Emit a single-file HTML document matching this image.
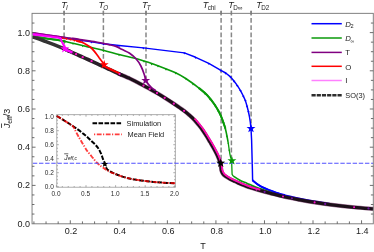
<!DOCTYPE html>
<html><head><meta charset="utf-8"><title>Jeff vs T</title>
<style>
html,body{margin:0;padding:0;background:#ffffff;}
body{width:374px;height:252px;overflow:hidden;position:relative;font-family:"Liberation Sans",sans-serif;}
</style></head><body>
<svg width="374" height="252" viewBox="0 0 374 252" style="position:absolute;left:0;top:0;display:block;will-change:transform" font-family="'Liberation Sans', sans-serif">
<rect x="0" y="0" width="374" height="252" fill="#ffffff"/>
<defs><clipPath id="ovl"><rect x="50" y="110" width="23" height="17"/><rect x="108" y="165" width="70" height="22"/></clipPath></defs>
<g fill="none" stroke-linecap="butt" stroke-linejoin="round">
<line x1="64.10" y1="10.9" x2="64.10" y2="14.6" stroke="#3a3a3a" stroke-width="1.0"/>
<line x1="64.10" y1="10.8" x2="64.10" y2="46.00" stroke="#878787" stroke-width="1.5" stroke-dasharray="4.8 2.4"/>
<line x1="103.40" y1="10.9" x2="103.40" y2="14.6" stroke="#3a3a3a" stroke-width="1.0"/>
<line x1="103.40" y1="10.8" x2="103.40" y2="61.00" stroke="#878787" stroke-width="1.5" stroke-dasharray="4.8 2.4"/>
<line x1="146.00" y1="10.9" x2="146.00" y2="14.6" stroke="#3a3a3a" stroke-width="1.0"/>
<line x1="146.00" y1="10.8" x2="146.00" y2="78.00" stroke="#878787" stroke-width="1.5" stroke-dasharray="4.8 2.4"/>
<line x1="221.10" y1="10.9" x2="221.10" y2="14.6" stroke="#3a3a3a" stroke-width="1.0"/>
<line x1="221.10" y1="10.8" x2="221.10" y2="161.00" stroke="#878787" stroke-width="1.5" stroke-dasharray="4.8 2.4"/>
<line x1="231.40" y1="10.9" x2="231.40" y2="14.6" stroke="#3a3a3a" stroke-width="1.0"/>
<line x1="231.40" y1="10.8" x2="231.40" y2="158.00" stroke="#878787" stroke-width="1.5" stroke-dasharray="4.8 2.4"/>
<line x1="251.10" y1="10.9" x2="251.10" y2="14.6" stroke="#3a3a3a" stroke-width="1.0"/>
<line x1="251.10" y1="10.8" x2="251.10" y2="126.00" stroke="#878787" stroke-width="1.5" stroke-dasharray="4.8 2.4"/>
<path d="M32.60 34.00 L56.00 37.00 L82.70 40.60 L91.40 41.80 L103.50 43.70 L119.00 45.50 L143.30 47.90 L184.30 52.90 L195.70 57.30 L208.80 63.30 L220.90 70.30 L225.70 73.00 L230.50 76.90 L234.00 81.00 L237.20 85.40 L240.40 90.40 L243.30 96.00 L245.40 100.60 L247.00 106.00 L248.40 111.50 L249.40 116.50 L250.30 122.10 L251.00 128.50 L251.00 128.50 L251.60 140.00 L252.40 170.00 L252.60 180.40 L252.60 180.40 C253.50 181.10 256.08 183.33 258.00 184.60 C259.92 185.87 262.08 187.02 264.10 188.00 C266.12 188.98 268.10 189.73 270.10 190.50 C272.10 191.27 273.62 191.80 276.10 192.60 C278.58 193.40 281.02 194.32 285.00 195.30 C288.98 196.28 295.08 197.52 300.00 198.50 C304.92 199.48 309.50 200.35 314.50 201.20 C319.50 202.05 327.42 203.20 330.00 203.60" stroke="#0000ff" stroke-width="1.45"/>
<path d="M252.60 180.40 C253.50 181.10 256.08 183.33 258.00 184.60 C259.92 185.87 262.08 187.02 264.10 188.00 C266.12 188.98 268.10 189.73 270.10 190.50 C272.10 191.27 273.62 191.80 276.10 192.60 C278.58 193.40 283.52 194.85 285.00 195.30" stroke="#0000ff" stroke-width="2.0"/>
<path d="M32.60 36.20 C35.17 36.62 43.83 38.07 48.00 38.70 C52.17 39.33 54.67 39.53 57.60 40.00 C60.53 40.47 63.03 40.95 65.60 41.50 C68.17 42.05 69.27 42.40 73.00 43.30 C76.73 44.20 82.83 45.70 88.00 46.90 C93.17 48.10 98.67 49.18 104.00 50.50 C109.33 51.82 114.00 53.25 120.00 54.80 C126.00 56.35 133.58 57.93 140.00 59.80 C146.42 61.67 152.67 63.88 158.50 66.00 C164.33 68.12 170.45 70.42 175.00 72.50 C179.55 74.58 181.80 75.90 185.80 78.50 C189.80 81.10 195.47 85.35 199.00 88.10 C202.53 90.85 204.35 92.18 207.00 95.00 C209.65 97.82 212.58 101.53 214.90 105.00 C217.22 108.47 219.18 111.97 220.90 115.80 C222.62 119.63 224.00 123.63 225.20 128.00 C226.40 132.37 227.62 139.67 228.10 142.00" stroke="#0a9a0a" stroke-width="1.6"/>
<path d="M228.10 142.00 C228.40 144.02 229.32 151.02 229.90 154.10 C230.48 157.18 231.32 159.43 231.60 160.50 L231.60 160.50 L232.10 174.30 L233.30 176.10" stroke="#0a9a0a" stroke-width="1.3"/>
<path d="M233.30 176.10 C234.40 176.80 237.58 179.08 239.90 180.30 C242.22 181.52 244.58 182.28 247.20 183.40 C249.82 184.52 252.80 185.90 255.60 187.00 C258.40 188.10 261.27 189.07 264.00 190.00 C266.73 190.93 270.67 192.17 272.00 192.60" stroke="#0a9a0a" stroke-width="1.6"/>
<path d="M32.60 36.20 C35.17 36.62 43.83 38.07 48.00 38.70 C52.17 39.33 54.67 39.53 57.60 40.00 C60.53 40.47 64.27 41.25 65.60 41.50" stroke="#0a9a0a" stroke-width="2.1"/>
<path d="M199.00 88.10 C200.33 89.25 204.35 92.18 207.00 95.00 C209.65 97.82 212.58 101.53 214.90 105.00 C217.22 108.47 219.18 111.97 220.90 115.80 C222.62 119.63 224.48 125.97 225.20 128.00" stroke="#0a9a0a" stroke-width="2.0"/>
<path d="M81.45 40.30 L83.95 40.30 L82.70 42.30Z" fill="#0000ff" stroke="none"/>
<path d="M90.15 41.50 L92.65 41.50 L91.40 43.50Z" fill="#0000ff" stroke="none"/>
<path d="M102.25 43.40 L104.75 43.40 L103.50 45.40Z" fill="#0000ff" stroke="none"/>
<path d="M117.75 45.20 L120.25 45.20 L119.00 47.20Z" fill="#0000ff" stroke="none"/>
<path d="M142.05 47.60 L144.55 47.60 L143.30 49.60Z" fill="#0000ff" stroke="none"/>
<path d="M183.05 52.60 L185.55 52.60 L184.30 54.60Z" fill="#0000ff" stroke="none"/>
<path d="M194.45 57.00 L196.95 57.00 L195.70 59.00Z" fill="#0000ff" stroke="none"/>
<path d="M207.55 63.00 L210.05 63.00 L208.80 65.00Z" fill="#0000ff" stroke="none"/>
<path d="M219.65 70.00 L222.15 70.00 L220.90 72.00Z" fill="#0000ff" stroke="none"/>
<path d="M224.45 72.70 L226.95 72.70 L225.70 74.70Z" fill="#0000ff" stroke="none"/>
<path d="M229.25 76.60 L231.75 76.60 L230.50 78.60Z" fill="#0000ff" stroke="none"/>
<path d="M232.75 80.70 L235.25 80.70 L234.00 82.70Z" fill="#0000ff" stroke="none"/>
<path d="M235.95 85.10 L238.45 85.10 L237.20 87.10Z" fill="#0000ff" stroke="none"/>
<path d="M239.15 90.10 L241.65 90.10 L240.40 92.10Z" fill="#0000ff" stroke="none"/>
<path d="M242.05 95.70 L244.55 95.70 L243.30 97.70Z" fill="#0000ff" stroke="none"/>
<path d="M244.15 100.30 L246.65 100.30 L245.40 102.30Z" fill="#0000ff" stroke="none"/>
<path d="M245.75 105.70 L248.25 105.70 L247.00 107.70Z" fill="#0000ff" stroke="none"/>
<path d="M247.15 111.20 L249.65 111.20 L248.40 113.20Z" fill="#0000ff" stroke="none"/>
<path d="M63.75 41.09 L66.25 41.09 L65.00 43.09Z" fill="#0a9a0a" stroke="none"/>
<path d="M71.75 43.00 L74.25 43.00 L73.00 45.00Z" fill="#0a9a0a" stroke="none"/>
<path d="M81.45 45.33 L83.95 45.33 L82.70 47.33Z" fill="#0a9a0a" stroke="none"/>
<path d="M90.15 47.37 L92.65 47.37 L91.40 49.37Z" fill="#0a9a0a" stroke="none"/>
<path d="M102.25 50.09 L104.75 50.09 L103.50 52.09Z" fill="#0a9a0a" stroke="none"/>
<path d="M117.75 54.23 L120.25 54.23 L119.00 56.23Z" fill="#0a9a0a" stroke="none"/>
<path d="M142.75 60.84 L145.25 60.84 L144.00 62.84Z" fill="#0a9a0a" stroke="none"/>
<path d="M150.35 63.39 L152.85 63.39 L151.60 65.39Z" fill="#0a9a0a" stroke="none"/>
<path d="M156.75 65.53 L159.25 65.53 L158.00 67.53Z" fill="#0a9a0a" stroke="none"/>
<path d="M164.75 68.65 L167.25 68.65 L166.00 70.65Z" fill="#0a9a0a" stroke="none"/>
<path d="M174.45 72.59 L176.95 72.59 L175.70 74.59Z" fill="#0a9a0a" stroke="none"/>
<path d="M184.75 78.35 L187.25 78.35 L186.00 80.35Z" fill="#0a9a0a" stroke="none"/>
<path d="M191.75 83.44 L194.25 83.44 L193.00 85.44Z" fill="#0a9a0a" stroke="none"/>
<path d="M197.75 87.80 L200.25 87.80 L199.00 89.80Z" fill="#0a9a0a" stroke="none"/>
<path d="M203.75 92.98 L206.25 92.98 L205.00 94.98Z" fill="#0a9a0a" stroke="none"/>
<path d="M208.75 98.50 L211.25 98.50 L210.00 100.50Z" fill="#0a9a0a" stroke="none"/>
<path d="M213.65 104.70 L216.15 104.70 L214.90 106.70Z" fill="#0a9a0a" stroke="none"/>
<path d="M216.75 110.28 L219.25 110.28 L218.00 112.28Z" fill="#0a9a0a" stroke="none"/>
<path d="M219.65 115.50 L222.15 115.50 L220.90 117.50Z" fill="#0a9a0a" stroke="none"/>
<path d="M221.95 122.03 L224.45 122.03 L223.20 124.03Z" fill="#0a9a0a" stroke="none"/>
<path d="M223.95 127.70 L226.45 127.70 L225.20 129.70Z" fill="#0a9a0a" stroke="none"/>
<path d="M225.76 135.70 L227.96 135.70 L226.86 137.40Z" fill="#0a9a0a" stroke="none"/>
<path d="M227.15 142.70 L229.35 142.70 L228.25 144.40Z" fill="#0a9a0a" stroke="none"/>
<path d="M228.19 149.70 L230.39 149.70 L229.29 151.40Z" fill="#0a9a0a" stroke="none"/>
<path d="M32.60 32.60 C35.17 32.97 43.83 34.22 48.00 34.80 C52.17 35.38 53.60 35.52 57.60 36.10 C61.60 36.68 68.27 37.72 72.00 38.30 C75.73 38.88 78.67 39.38 80.00 39.60" stroke="#800080" stroke-width="1.0"/>
<path d="M72.00 38.30 C73.33 38.52 76.00 38.98 80.00 39.60 C84.00 40.22 91.18 41.17 96.00 42.00 C100.82 42.83 105.57 43.87 108.90 44.60 C112.23 45.33 113.75 45.57 116.00 46.40 C118.25 47.23 120.13 48.47 122.40 49.60 C124.67 50.73 127.33 51.67 129.60 53.20 C131.87 54.73 134.12 56.67 136.00 58.80 C137.88 60.93 139.55 63.45 140.90 66.00 C142.25 68.55 143.28 71.67 144.10 74.10 C144.92 76.53 145.52 79.52 145.80 80.60" stroke="#800080" stroke-width="1.7"/>
<path d="M32.60 33.40 C35.17 33.77 43.45 34.93 48.00 35.60 C52.55 36.27 56.15 36.73 59.90 37.40 C63.65 38.07 67.15 38.95 70.50 39.60 C73.85 40.25 77.92 40.83 80.00 41.30 C82.08 41.77 82.50 42.22 83.00 42.40" stroke="#ff0000" stroke-width="0.9"/>
<path d="M76.00 40.80 C76.97 41.05 80.03 41.65 81.80 42.30 C83.57 42.95 85.00 43.75 86.60 44.70 C88.20 45.65 89.97 46.72 91.40 48.00 C92.83 49.28 93.92 50.78 95.20 52.40 C96.48 54.02 98.45 56.82 99.10 57.70 L99.10 57.70 L101.20 60.40 L104.20 64.60" stroke="#ff0000" stroke-width="1.7"/>
<circle cx="59.9" cy="37.4" r="1.0" fill="#ff0000" stroke="none"/>
<circle cx="62.9" cy="38.0" r="1.0" fill="#ff0000" stroke="none"/>
<circle cx="66.3" cy="38.7" r="1.0" fill="#ff0000" stroke="none"/>
<circle cx="70.5" cy="39.6" r="1.0" fill="#ff0000" stroke="none"/>
<circle cx="74.5" cy="40.4" r="1.0" fill="#ff0000" stroke="none"/>
<circle cx="79.3" cy="41.3" r="1.0" fill="#ff0000" stroke="none"/>
<path d="M32.60 36.70 C34.33 37.33 39.43 39.18 43.00 40.50 C46.57 41.82 50.43 43.20 54.00 44.60 C57.57 46.00 61.73 47.75 64.40 48.90 C67.07 50.05 69.07 51.05 70.00 51.48" stroke="#343434" stroke-width="3.6"/>
<path d="M64.40 48.90 C64.40 48.90 63.13 48.32 64.40 48.90 C65.67 49.48 69.40 51.22 72.00 52.40 C74.60 53.58 77.33 54.82 80.00 56.00 C82.67 57.18 85.00 58.15 88.00 59.50 C91.00 60.85 95.33 62.88 98.00 64.10 C100.67 65.32 102.00 65.87 104.00 66.80 C106.00 67.73 107.33 68.45 110.00 69.70 C112.67 70.95 118.00 73.39 120.00 74.30 C122.00 75.21 121.67 75.02 122.00 75.16" stroke="#2a2029" stroke-width="3.6"/>
<path d="M118.00 73.38 C118.33 73.53 118.00 73.43 120.00 74.30 C122.00 75.17 127.17 77.30 130.00 78.60 C132.83 79.90 134.80 80.97 137.00 82.10 C139.20 83.23 141.03 84.22 143.20 85.40 C145.37 86.58 147.70 87.92 150.00 89.20 C152.30 90.48 154.52 91.65 157.00 93.10 C159.48 94.55 162.07 96.12 164.90 97.90 C167.73 99.68 170.78 101.63 174.00 103.80 C177.22 105.97 181.62 108.98 184.20 110.90 C186.78 112.82 187.80 113.78 189.50 115.30 C191.20 116.82 192.90 118.42 194.40 120.00 C195.90 121.58 197.15 123.13 198.50 124.80 C199.85 126.47 201.18 128.13 202.50 130.00 C203.82 131.87 205.15 134.00 206.40 136.00 C207.65 138.00 208.82 140.00 210.00 142.00 C211.18 144.00 212.38 145.98 213.50 148.00 C214.62 150.02 215.82 152.27 216.70 154.10 C217.58 155.93 218.18 157.48 218.80 159.00 C219.42 160.52 220.03 161.78 220.40 163.20 C220.77 164.62 220.82 166.20 221.00 167.50 C221.18 168.80 221.17 169.92 221.50 171.00 C221.83 172.08 222.33 173.12 223.00 174.00 C223.67 174.88 224.33 175.47 225.50 176.30 C226.67 177.13 228.40 178.15 230.00 179.00 C231.60 179.85 233.43 180.62 235.10 181.40 C236.77 182.18 238.35 182.98 240.00 183.70 C241.65 184.42 243.33 185.05 245.00 185.70 C246.67 186.35 247.83 186.88 250.00 187.60 C252.17 188.32 254.65 189.05 258.00 190.00 C261.35 190.95 265.60 192.13 270.10 193.30 C274.60 194.47 280.02 195.90 285.00 197.00 C289.98 198.10 295.08 199.00 300.00 199.90 C304.92 200.80 309.50 201.62 314.50 202.40 C319.50 203.18 323.40 203.78 330.00 204.60 C336.60 205.42 346.88 206.60 354.10 207.30 C361.32 208.00 370.10 208.55 373.30 208.80" stroke="#60004c" stroke-width="4.1" stroke-opacity="0.5"/>
<path d="M118.00 73.38 C118.33 73.53 118.00 73.43 120.00 74.30 C122.00 75.17 127.17 77.30 130.00 78.60 C132.83 79.90 134.80 80.97 137.00 82.10 C139.20 83.23 141.03 84.22 143.20 85.40 C145.37 86.58 147.70 87.92 150.00 89.20 C152.30 90.48 154.52 91.65 157.00 93.10 C159.48 94.55 162.07 96.12 164.90 97.90 C167.73 99.68 170.78 101.63 174.00 103.80 C177.22 105.97 181.62 108.98 184.20 110.90 C186.78 112.82 187.80 113.78 189.50 115.30 C191.20 116.82 192.90 118.42 194.40 120.00 C195.90 121.58 197.15 123.13 198.50 124.80 C199.85 126.47 201.18 128.13 202.50 130.00 C203.82 131.87 205.15 134.00 206.40 136.00 C207.65 138.00 208.82 140.00 210.00 142.00 C211.18 144.00 212.38 145.98 213.50 148.00 C214.62 150.02 215.82 152.27 216.70 154.10 C217.58 155.93 218.18 157.48 218.80 159.00 C219.42 160.52 220.03 161.78 220.40 163.20 C220.77 164.62 220.82 166.20 221.00 167.50 C221.18 168.80 221.17 169.92 221.50 171.00 C221.83 172.08 222.33 173.12 223.00 174.00 C223.67 174.88 224.33 175.47 225.50 176.30 C226.67 177.13 228.40 178.15 230.00 179.00 C231.60 179.85 233.43 180.62 235.10 181.40 C236.77 182.18 238.35 182.98 240.00 183.70 C241.65 184.42 243.33 185.05 245.00 185.70 C246.67 186.35 247.83 186.88 250.00 187.60 C252.17 188.32 254.65 189.05 258.00 190.00 C261.35 190.95 265.60 192.13 270.10 193.30 C274.60 194.47 280.02 195.90 285.00 197.00 C289.98 198.10 295.08 199.00 300.00 199.90 C304.92 200.80 309.50 201.62 314.50 202.40 C319.50 203.18 323.40 203.78 330.00 204.60 C336.60 205.42 346.88 206.60 354.10 207.30 C361.32 208.00 370.10 208.55 373.30 208.80" stroke="#1c0f19" stroke-width="3.2"/>
<path d="M145.80 80.60 C146.23 81.23 147.45 83.23 148.40 84.40 C149.35 85.57 150.32 86.57 151.50 87.60 C152.68 88.63 154.83 90.10 155.50 90.60" stroke="#800080" stroke-width="1.7"/>
<path d="M103.00 65.65 L104.00 66.10 L110.00 69.00 L119.50 73.37" stroke="#ff0000" stroke-width="2.0"/>
<path d="M32.8 32.3 L48 34.7 L57.6 36.1 L60.6 36.9 L61.2 38.6 L59.6 38.9 L57.6 38.4 L48 37.3 L32.8 35.4Z" fill="#ff00ff" stroke="#ff00ff" stroke-width="0.3"/>
<path d="M60.0 37.4 L61.8 41.6 L64.0 46.0 L64.7 48.7" stroke="#ff00ff" stroke-width="2.0"/>
<path d="M32.8 32.5 L48 34.8 L57.6 36.1 L72 38.3" stroke="#800080" stroke-width="0.8"/>
<path d="M64.80 48.80 C65.00 48.94 64.80 49.04 66.00 49.64 C67.20 50.24 70.92 51.90 72.00 52.40 C73.08 52.90 72.42 52.59 72.50 52.62" stroke="#ff00ff" stroke-width="2.6"/>
<path d="M195.40 119.45 C195.40 119.45 194.72 118.65 195.40 119.45 C196.08 120.25 198.15 122.58 199.50 124.25 C200.85 125.92 202.18 127.58 203.50 129.45 C204.82 131.32 206.15 133.45 207.40 135.45 C208.65 137.45 209.82 139.45 211.00 141.45 C212.18 143.45 213.38 145.43 214.50 147.45 C215.62 149.47 216.82 151.72 217.70 153.55 C218.58 155.38 219.18 156.93 219.80 158.45 C220.42 159.97 221.03 161.23 221.40 162.65 C221.77 164.07 221.82 165.65 222.00 166.95 C222.18 168.25 222.17 169.37 222.50 170.45 C222.83 171.53 223.33 172.57 224.00 173.45 C224.67 174.33 225.33 174.92 226.50 175.75 C227.67 176.58 229.40 177.60 231.00 178.45 C232.60 179.30 234.43 180.07 236.10 180.85 C237.77 181.63 239.35 182.43 241.00 183.15 C242.65 183.87 244.33 184.50 246.00 185.15 C247.67 185.80 248.83 186.33 251.00 187.05 C253.17 187.77 257.67 189.05 259.00 189.45 C260.33 189.85 259.00 189.45 259.00 189.45" stroke="#ff00d2" stroke-width="1.8"/>
<path d="M195.40 119.45 C195.40 119.45 194.72 118.65 195.40 119.45 C196.08 120.25 198.15 122.58 199.50 124.25 C200.85 125.92 202.18 127.58 203.50 129.45 C204.82 131.32 206.15 133.45 207.40 135.45 C208.65 137.45 209.82 139.45 211.00 141.45 C212.18 143.45 213.38 145.43 214.50 147.45 C215.62 149.47 216.82 151.72 217.70 153.55 C218.58 155.38 219.18 156.93 219.80 158.45 C220.42 159.97 221.03 161.23 221.40 162.65 C221.77 164.07 221.82 165.65 222.00 166.95 C222.18 168.25 222.17 169.37 222.50 170.45 C222.83 171.53 223.33 172.57 224.00 173.45 C224.67 174.33 225.33 174.92 226.50 175.75 C227.67 176.58 229.40 177.60 231.00 178.45 C232.60 179.30 234.43 180.07 236.10 180.85 C237.77 181.63 239.35 182.43 241.00 183.15 C242.65 183.87 244.33 184.50 246.00 185.15 C247.67 185.80 248.83 186.33 251.00 187.05 C253.17 187.77 257.67 189.05 259.00 189.45 C260.33 189.85 259.00 189.45 259.00 189.45" stroke="#ff3a5a" stroke-width="1.5" stroke-dasharray="0.9 1.5" stroke-opacity="0.85"/>
</g>
<circle cx="76.1" cy="54.2" r="1.15" fill="#ff10c8"/>
<circle cx="82.7" cy="57.2" r="1.15" fill="#ff10c8"/>
<circle cx="91.6" cy="61.2" r="1.15" fill="#ff10c8"/>
<circle cx="119.6" cy="74.1" r="1.15" fill="#ff10c8"/>
<circle cx="143.5" cy="85.6" r="1.15" fill="#ff10c8"/>
<circle cx="149.7" cy="89.0" r="1.15" fill="#ff10c8"/>
<circle cx="157.0" cy="93.1" r="1.15" fill="#ff10c8"/>
<circle cx="164.7" cy="97.8" r="1.15" fill="#ff10c8"/>
<circle cx="173.8" cy="103.7" r="1.15" fill="#ff10c8"/>
<circle cx="184.1" cy="110.8" r="1.15" fill="#ff10c8"/>
<circle cx="256.6" cy="189.6" r="1.05" fill="#f208c8"/>
<circle cx="283.0" cy="196.5" r="1.05" fill="#f208c8"/>
<circle cx="314.6" cy="202.4" r="1.05" fill="#f208c8"/>
<circle cx="354.1" cy="207.3" r="1.05" fill="#f208c8"/>
<circle cx="264.6" cy="191.8" r="1.1" fill="#7010a0"/>
<circle cx="291.9" cy="198.3" r="1.1" fill="#7010a0"/>
<circle cx="325.2" cy="203.9" r="1.1" fill="#7010a0"/>
<circle cx="368.5" cy="208.4" r="1.1" fill="#7010a0"/>
<rect x="42.80" y="111.70" width="138.50" height="85.50" fill="#ffffff" stroke="none"/>
<rect x="56.80" y="114.70" width="118.50" height="72.50" fill="#ffffff" stroke="#9a9a9a" stroke-width="0.8"/>
<path d="M56.40 187.20V185.20M56.40 114.70V116.70M62.32 187.20V186.00M62.32 114.70V115.90M68.24 187.20V186.00M68.24 114.70V115.90M74.16 187.20V186.00M74.16 114.70V115.90M80.08 187.20V186.00M80.08 114.70V115.90M86.00 187.20V185.20M86.00 114.70V116.70M91.92 187.20V186.00M91.92 114.70V115.90M97.84 187.20V186.00M97.84 114.70V115.90M103.76 187.20V186.00M103.76 114.70V115.90M109.68 187.20V186.00M109.68 114.70V115.90M115.60 187.20V185.20M115.60 114.70V116.70M121.52 187.20V186.00M121.52 114.70V115.90M127.44 187.20V186.00M127.44 114.70V115.90M133.36 187.20V186.00M133.36 114.70V115.90M139.28 187.20V186.00M139.28 114.70V115.90M145.20 187.20V185.20M145.20 114.70V116.70M151.12 187.20V186.00M151.12 114.70V115.90M157.04 187.20V186.00M157.04 114.70V115.90M162.96 187.20V186.00M162.96 114.70V115.90M168.88 187.20V186.00M168.88 114.70V115.90M174.80 187.20V185.20M174.80 114.70V116.70M56.80 186.70H58.80M175.30 186.70H173.30M56.80 183.20H58.00M175.30 183.20H174.10M56.80 179.70H58.00M175.30 179.70H174.10M56.80 176.20H58.00M175.30 176.20H174.10M56.80 172.70H58.80M175.30 172.70H173.30M56.80 169.20H58.00M175.30 169.20H174.10M56.80 165.70H58.00M175.30 165.70H174.10M56.80 162.20H58.00M175.30 162.20H174.10M56.80 158.70H58.80M175.30 158.70H173.30M56.80 155.20H58.00M175.30 155.20H174.10M56.80 151.70H58.00M175.30 151.70H174.10M56.80 148.20H58.00M175.30 148.20H174.10M56.80 144.70H58.80M175.30 144.70H173.30M56.80 141.20H58.00M175.30 141.20H174.10M56.80 137.70H58.00M175.30 137.70H174.10M56.80 134.20H58.00M175.30 134.20H174.10M56.80 130.70H58.80M175.30 130.70H173.30M56.80 127.20H58.00M175.30 127.20H174.10M56.80 123.70H58.00M175.30 123.70H174.10M56.80 120.20H58.00M175.30 120.20H174.10M56.80 116.70H58.80M175.30 116.70H173.30" stroke="#8a8a8a" stroke-width="0.7" fill="none"/>
<path d="M56.85 116.00 C58.04 116.73 61.46 118.80 64.00 120.40 C66.54 122.00 69.77 124.07 72.10 125.60 C74.43 127.13 76.13 128.25 78.00 129.60 C79.87 130.95 81.72 132.43 83.30 133.70 C84.88 134.97 86.17 136.00 87.50 137.20 C88.83 138.40 90.05 139.70 91.30 140.90 C92.55 142.10 93.92 143.28 95.00 144.40 C96.08 145.52 97.03 146.57 97.80 147.60 C98.57 148.63 99.00 149.47 99.60 150.60 C100.20 151.73 100.85 153.03 101.40 154.40 C101.95 155.77 102.32 157.23 102.90 158.80 C103.48 160.37 104.28 162.20 104.90 163.80 C105.52 165.40 105.92 167.23 106.60 168.40 C107.28 169.57 107.95 170.05 109.00 170.80 C110.05 171.55 111.40 172.20 112.90 172.90 C114.40 173.60 115.97 174.25 118.00 175.00 C120.03 175.75 122.27 176.63 125.10 177.40 C127.93 178.17 130.80 178.90 135.00 179.60 C139.20 180.30 145.80 181.10 150.30 181.60 C154.80 182.10 157.85 182.32 162.00 182.60 C166.15 182.88 173.00 183.18 175.20 183.30" stroke="#000000" stroke-width="2.0" fill="none" stroke-dasharray="4.6 1.5"/>
<path d="M56.85 116.00 C58.04 116.73 61.46 118.80 64.00 120.40 C66.54 122.00 70.37 124.27 72.10 125.60 C73.83 126.93 73.73 127.32 74.40 128.40 C75.07 129.48 75.50 130.90 76.10 132.10 C76.70 133.30 77.33 134.40 78.00 135.60 C78.67 136.80 79.37 138.03 80.10 139.30 C80.83 140.57 81.60 141.87 82.40 143.20 C83.20 144.53 84.22 146.17 84.90 147.30 C85.58 148.43 85.72 148.88 86.50 150.00 C87.28 151.12 88.55 152.70 89.60 154.00 C90.65 155.30 91.63 156.40 92.80 157.80 C93.97 159.20 95.40 161.13 96.60 162.40 C97.80 163.67 98.95 164.53 100.00 165.40 C101.05 166.27 101.82 166.83 102.90 167.60 C103.98 168.37 105.25 169.25 106.50 170.00 C107.75 170.75 108.48 171.27 110.40 172.10 C112.32 172.93 115.55 174.12 118.00 175.00 C120.45 175.88 122.27 176.63 125.10 177.40 C127.93 178.17 130.80 178.90 135.00 179.60 C139.20 180.30 145.80 181.10 150.30 181.60 C154.80 182.10 157.85 182.32 162.00 182.60 C166.15 182.88 173.00 183.18 175.20 183.30" stroke="#ff0000" stroke-opacity="0.76" stroke-width="1.9" fill="none" stroke-dasharray="4.6 1.3 1.3 1.6"/>
<line x1="92.5" y1="123.2" x2="121.2" y2="123.2" stroke="#000" stroke-width="1.9" stroke-dasharray="4.6 1.4"/>
<line x1="94" y1="134.3" x2="121.8" y2="134.3" stroke="#ff0000" stroke-opacity="0.76" stroke-width="1.7" stroke-dasharray="1.2 1.6 4.8 1.4"/>
<g fill="#202020" font-size="7.4px">
<text x="126.6" y="125.6">Simulation</text>
<text x="127.6" y="136.9">Mean Field</text>
</g>
<g fill="#2a2a2a" font-size="6.5px" text-anchor="end">
<text x="53.8" y="188.90">0.0</text>
<text x="53.8" y="174.90">0.2</text>
<text x="53.8" y="160.90">0.4</text>
<text x="53.8" y="146.90">0.6</text>
<text x="53.8" y="132.90">0.8</text>
<text x="53.8" y="118.90">1.0</text>
</g>
<g fill="#2a2a2a" font-size="6.5px" text-anchor="middle">
<text x="56.00" y="195.6">0.0</text>
<text x="85.60" y="195.6">0.5</text>
<text x="115.20" y="195.6">1.0</text>
<text x="144.80" y="195.6">1.5</text>
<text x="174.40" y="195.6">2.0</text>
</g>
<line x1="64.2" y1="153.8" x2="68.3" y2="153.8" stroke="#222" stroke-width="0.7"/>
<text x="64.3" y="159.5" font-size="6.9px" font-style="italic" fill="#222">J</text>
<text x="68.0" y="160.2" font-size="4.7px" font-style="italic" fill="#111">eff,c</text>
<line x1="32.85" y1="163.2" x2="373.30" y2="163.2" stroke="#5050ff" stroke-width="1.15" stroke-dasharray="4.4 1.75"/>
<polygon points="104.80,160.60 105.62,162.97 108.13,163.02 106.13,164.53 106.86,166.93 104.80,165.50 102.74,166.93 103.47,164.53 101.47,163.02 103.98,162.97" fill="#000000"/>
<polygon points="64.80,44.00 65.91,47.18 69.27,47.25 66.59,49.28 67.56,52.50 64.80,50.58 62.04,52.50 63.01,49.28 60.33,47.25 63.69,47.18" fill="#ff00ff"/>
<polygon points="104.20,60.00 105.31,63.18 108.67,63.25 105.99,65.28 106.96,68.50 104.20,66.58 101.44,68.50 102.41,65.28 99.73,63.25 103.09,63.18" fill="#ff0000"/>
<polygon points="145.70,75.80 146.81,78.98 150.17,79.05 147.49,81.08 148.46,84.30 145.70,82.38 142.94,84.30 143.91,81.08 141.23,79.05 144.59,78.98" fill="#800080"/>
<polygon points="220.70,158.40 221.81,161.58 225.17,161.65 222.49,163.68 223.46,166.90 220.70,164.98 217.94,166.90 218.91,163.68 216.23,161.65 219.59,161.58" fill="#000000"/>
<polygon points="231.90,156.00 233.01,159.18 236.37,159.25 233.69,161.28 234.66,164.50 231.90,162.58 229.14,164.50 230.11,161.28 227.43,159.25 230.79,159.18" fill="#0a9a0a"/>
<polygon points="251.00,123.80 252.11,126.98 255.47,127.05 252.79,129.08 253.76,132.30 251.00,130.38 248.24,132.30 249.21,129.08 246.53,127.05 249.89,126.98" fill="#0000ff"/>
<rect x="32.05" y="13.35" width="341.25" height="210.45" fill="none" stroke="#7b7b7b" stroke-width="0.95"/>
<path d="M33.91 223.80V221.40M46.04 223.80V221.40M58.17 223.80V221.40M70.31 223.80V220.30M82.44 223.80V221.40M94.58 223.80V221.40M106.72 223.80V221.40M118.85 223.80V220.30M130.99 223.80V221.40M143.12 223.80V221.40M155.26 223.80V221.40M167.39 223.80V220.30M179.53 223.80V221.40M191.66 223.80V221.40M203.79 223.80V221.40M215.93 223.80V220.30M228.07 223.80V221.40M240.20 223.80V221.40M252.34 223.80V221.40M264.47 223.80V220.30M276.61 223.80V221.40M288.74 223.80V221.40M300.88 223.80V221.40M313.01 223.80V220.30M325.14 223.80V221.40M337.28 223.80V221.40M349.41 223.80V221.40M361.55 223.80V220.30M32.05 214.05H34.45M373.30 214.05H370.90M32.05 204.50H34.45M373.30 204.50H370.90M32.05 194.95H34.45M373.30 194.95H370.90M32.05 185.40H35.55M373.30 185.40H369.80M32.05 175.85H34.45M373.30 175.85H370.90M32.05 166.30H34.45M373.30 166.30H370.90M32.05 156.75H34.45M373.30 156.75H370.90M32.05 147.20H35.55M373.30 147.20H369.80M32.05 137.65H34.45M373.30 137.65H370.90M32.05 128.10H34.45M373.30 128.10H370.90M32.05 118.55H34.45M373.30 118.55H370.90M32.05 109.00H35.55M373.30 109.00H369.80M32.05 99.45H34.45M373.30 99.45H370.90M32.05 89.90H34.45M373.30 89.90H370.90M32.05 80.35H34.45M373.30 80.35H370.90M32.05 70.80H35.55M373.30 70.80H369.80M32.05 61.25H34.45M373.30 61.25H370.90M32.05 51.70H34.45M373.30 51.70H370.90M32.05 42.15H34.45M373.30 42.15H370.90M32.05 32.60H35.55M373.30 32.60H369.80M32.05 23.05H34.45M373.30 23.05H370.90" stroke="#555555" stroke-width="0.85" fill="none"/>
<g fill="#202020" font-size="9px" text-anchor="middle">
<text x="71.11" y="234.3">0.2</text>
<text x="119.65" y="234.3">0.4</text>
<text x="168.19" y="234.3">0.6</text>
<text x="216.73" y="234.3">0.8</text>
<text x="265.27" y="234.3">1.0</text>
<text x="313.81" y="234.3">1.2</text>
<text x="362.35" y="234.3">1.4</text>
<text x="203.1" y="249.3">T</text>
</g>
<g fill="#202020" font-size="9px" text-anchor="end">
<text x="30.1" y="226.60">0.0</text>
<text x="30.1" y="188.40">0.2</text>
<text x="30.1" y="150.20">0.4</text>
<text x="30.1" y="112.00">0.6</text>
<text x="30.1" y="73.80">0.8</text>
<text x="30.1" y="35.60">1.0</text>
</g>
<g transform="translate(10.4 128.1) rotate(-90)" fill="#202020">
<line x1="0.2" y1="-8.9" x2="4.6" y2="-8.9" stroke="#202020" stroke-width="0.8"/>
<text x="0" y="0" font-size="9px" font-style="italic">J</text>
<text x="4.3" y="1.7" font-size="7px">eff</text>
<text x="11.9" y="0" font-size="9px">/3</text>
</g>
<text x="61.30" y="8.0" font-size="9px" font-style="italic" fill="#202020">T</text>
<text x="65.90" y="9.7" font-size="6.3px" font-style="italic" fill="#202020">I</text>
<text x="98.40" y="8.0" font-size="9px" font-style="italic" fill="#202020">T</text>
<text x="103.30" y="9.7" font-size="6.3px" font-style="italic" fill="#202020">O</text>
<text x="141.90" y="8.0" font-size="9px" font-style="italic" fill="#202020">T</text>
<text x="146.70" y="9.7" font-size="6.3px" font-style="italic" fill="#202020">T</text>
<text x="202.80" y="8.0" font-size="9px" font-style="italic" fill="#202020">T</text>
<text x="207.70" y="9.7" font-size="6.3px" fill="#202020">chi</text>
<text x="228.30" y="8.0" font-size="9px" font-style="italic" fill="#202020">T</text>
<text x="233.30" y="9.7" font-size="6.3px" fill="#202020">D∞</text>
<text x="256.20" y="8.0" font-size="9px" font-style="italic" fill="#202020">T</text>
<text x="261.20" y="9.7" font-size="6.3px" fill="#202020">D2</text>
<line x1="311.5" y1="23.70" x2="341.8" y2="23.70" stroke="#0000ff" stroke-width="1.5"/>
<line x1="311.5" y1="38.00" x2="341.8" y2="38.00" stroke="#0a9a0a" stroke-width="1.5"/>
<line x1="311.5" y1="52.40" x2="341.8" y2="52.40" stroke="#800080" stroke-width="1.5"/>
<line x1="311.5" y1="66.30" x2="341.8" y2="66.30" stroke="#ff0000" stroke-width="1.5"/>
<line x1="311.5" y1="80.50" x2="341.8" y2="80.50" stroke="#ff80ff" stroke-width="1.5"/>
<line x1="311.5" y1="95.3" x2="341.8" y2="95.3" stroke="#2d2d2d" stroke-width="2.6" stroke-dasharray="4.2 1.0"/>
<g fill="#202020" font-size="7.8px">
<text x="345.3" y="26.6" font-style="italic">D</text><text x="350.6" y="28.0" font-size="5.6px">2</text>
<text x="345.3" y="40.9" font-style="italic">D</text><text x="350.6" y="42.6" font-size="5px">∞</text>
<text x="345.3" y="55.2">T</text>
<text x="345.3" y="69.6">O</text>
<text x="345.3" y="83.3">I</text>
<text x="345.3" y="98.1" font-size="7.4px">SO(3)</text>
</g>
</svg>
</body></html>
